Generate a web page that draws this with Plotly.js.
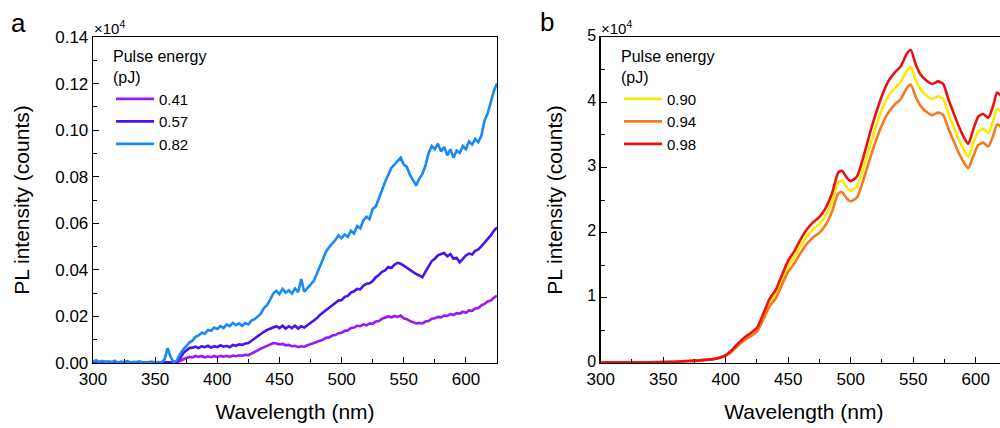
<!DOCTYPE html>
<html>
<head>
<meta charset="utf-8">
<script src="https://cdn.plot.ly/plotly-3.0.1.min.js"></script>
<style>
html,body{margin:0;padding:0;overflow:hidden;background:#fff;width:1000px;height:428px;}
#chart{width:1007px;height:428px;}
</style>
</head>
<body>
<div id="chart"></div>
<script>
// ---------- Panel a (values in units of 1e4 counts) ----------
const wlA = [300,302.5,305,307.5,310,312.5,315,317.5,320,322.5,
  325,327.5,330,332.5,335,337.5,340,342.5,345,347.5,
  350,352.5,355,357.5,360,362.5,365,367.5,370,372.5,
  375,377.5,380,382.5,385,387.5,390,392.5,395,397.5,
  400,402.5,405,407.5,410,412.5,415,417.5,420,422.5,
  425,427.5,430,432.5,435,437.5,440,442.5,445,447.5,
  450,452.5,455,457.5,460,462.5,465,467.5,470,472.5,
  475,477.5,480,482.5,485,487.5,490,492.5,495,497.5,
  500,502.5,505,507.5,510,512.5,515,517.5,520,522.5,
  525,527.5,530,532.5,535,537.5,540,542.5,545,547.5,
  550,552.5,555,557.5,560,562.5,565,567.5,570,572.5,
  575,577.5,580,582.5,585,587.5,590,592.5,595,597.5,
  600,602.5,605,607.5,610,612.5,615,617.5,620,622.5,625];
const a041 = [0.0003,0.0006,0.0002,0.0005,0.0001,0.0004,0.0002,0.0005,0.0001,0.0003,
  0.0002,0.0004,0.0001,0.0003,0.0002,0.0004,0.0001,0.0003,0.0002,0.0004,
  0.0001,0.0003,0.0002,0.0003,0.0001,0.0002,0.0001,0.0003,0.0008,0.0016,
  0.0020,0.0026,0.0024,0.0030,0.0026,0.0030,0.0024,0.0029,0.0025,0.0030,
  0.0025,0.0031,0.0027,0.0031,0.0026,0.0032,0.0029,0.0033,0.0031,0.0035,
  0.0034,0.0040,0.0046,0.0054,0.0062,0.0068,0.0074,0.0080,0.0086,0.0084,
  0.0080,0.0082,0.0076,0.0078,0.0072,0.0074,0.0068,0.0072,0.0070,0.0076,
  0.0080,0.0086,0.0090,0.0096,0.0100,0.0108,0.0110,0.0118,0.0120,0.0128,
  0.0130,0.0138,0.0140,0.0150,0.0152,0.0160,0.0158,0.0166,0.0162,0.0170,
  0.0168,0.0178,0.0180,0.0190,0.0194,0.0200,0.0196,0.0202,0.0198,0.0204,
  0.0192,0.0188,0.0180,0.0176,0.0170,0.0172,0.0170,0.0178,0.0180,0.0190,
  0.0192,0.0198,0.0196,0.0204,0.0202,0.0210,0.0206,0.0214,0.0212,0.0220,
  0.0216,0.0226,0.0224,0.0234,0.0236,0.0248,0.0254,0.0264,0.0268,0.0280,0.0290];
const a057 = [0.0004,0.0002,0.0005,0.0003,0.0006,0.0002,0.0004,0.0003,0.0002,0.0004,
  0.0002,0.0005,0.0003,0.0002,0.0004,0.0002,0.0003,0.0001,0.0004,0.0002,
  0.0003,0.0002,0.0003,0.0002,0.0003,0.0002,0.0003,0.0008,0.0020,0.0042,
  0.0052,0.0064,0.0066,0.0070,0.0064,0.0072,0.0068,0.0074,0.0066,0.0072,
  0.0068,0.0076,0.0070,0.0074,0.0068,0.0078,0.0074,0.0080,0.0078,0.0084,
  0.0086,0.0096,0.0106,0.0118,0.0126,0.0134,0.0142,0.0148,0.0152,0.0158,
  0.0150,0.0160,0.0148,0.0158,0.0150,0.0160,0.0148,0.0158,0.0152,0.0162,
  0.0170,0.0182,0.0192,0.0206,0.0216,0.0228,0.0236,0.0248,0.0256,0.0268,
  0.0270,0.0284,0.0288,0.0302,0.0308,0.0318,0.0316,0.0332,0.0340,0.0342,
  0.0352,0.0368,0.0378,0.0392,0.0398,0.0412,0.0408,0.0422,0.0430,0.0426,
  0.0418,0.0408,0.0398,0.0388,0.0382,0.0376,0.0368,0.0392,0.0418,0.0438,
  0.0448,0.0462,0.0468,0.0472,0.0458,0.0468,0.0448,0.0452,0.0432,0.0448,
  0.0462,0.0470,0.0466,0.0482,0.0488,0.0502,0.0516,0.0532,0.0548,0.0568,0.0582];
const a082 = [0.0005,0.0012,0.0003,0.0009,0.0002,0.0007,0.0004,0.0010,0.0002,0.0006,
  0.0003,0.0008,0.0001,0.0005,0.0003,0.0007,0.0002,0.0004,0.0001,0.0005,
  0.0002,0.0004,0.0002,0.0015,0.0064,0.0025,0.0003,0.0012,0.0038,0.0058,
  0.0072,0.0088,0.0096,0.0112,0.0118,0.0130,0.0126,0.0142,0.0138,0.0152,
  0.0146,0.0158,0.0150,0.0165,0.0158,0.0172,0.0162,0.0170,0.0160,0.0172,
  0.0166,0.0182,0.0188,0.0200,0.0212,0.0236,0.0248,0.0272,0.0298,0.0310,
  0.0296,0.0318,0.0302,0.0312,0.0298,0.0320,0.0304,0.0360,0.0306,0.0322,
  0.0338,0.0352,0.0382,0.0412,0.0448,0.0478,0.0498,0.0512,0.0528,0.0548,
  0.0536,0.0552,0.0542,0.0568,0.0556,0.0588,0.0578,0.0612,0.0628,0.0618,
  0.0662,0.0672,0.0712,0.0742,0.0778,0.0812,0.0838,0.0852,0.0868,0.0882,
  0.0852,0.0842,0.0808,0.0782,0.0762,0.0792,0.0812,0.0848,0.0902,0.0932,
  0.0918,0.0942,0.0908,0.0928,0.0892,0.0918,0.0882,0.0912,0.0902,0.0932,
  0.0918,0.0952,0.0938,0.0962,0.0948,0.0978,0.1042,0.1072,0.1122,0.1168,0.1200];

// ---------- Panel b (values in units of 1e4 counts) ----------
const wlB = [300,320,340,360,370,380,385,390,395,400,405,410,415,420,425,430,435,440,445,450,
  455,460,465,470,475,480,485,490,493,497,500,505,510,515,520,525,530,535,540,545,
  548,552,556,560,565,570,574,578,582,586,590,594,598,602,606,610,614,617,620,625];
const b090 = [0.01,0.01,0.01,0.02,0.03,0.04,0.05,0.06,0.08,0.12,0.19,0.29,0.37,0.44,0.51,0.71,0.93,1.06,1.28,1.49,
  1.63,1.80,1.95,2.05,2.13,2.26,2.47,2.77,2.80,2.69,2.64,2.71,2.98,3.31,3.62,3.89,4.09,4.21,4.31,4.49,
  4.54,4.34,4.19,4.11,4.05,4.09,4.05,3.83,3.64,3.45,3.29,3.16,3.37,3.55,3.59,3.53,3.71,3.90,3.86,3.80];
const b094 = [0.01,0.01,0.01,0.02,0.03,0.04,0.05,0.06,0.08,0.11,0.18,0.27,0.35,0.41,0.48,0.66,0.87,0.99,1.20,1.40,
  1.53,1.69,1.83,1.93,2.00,2.12,2.32,2.60,2.62,2.52,2.48,2.54,2.80,3.11,3.40,3.65,3.84,3.96,4.05,4.22,
  4.27,4.08,3.94,3.86,3.80,3.84,3.80,3.60,3.42,3.24,3.09,2.99,3.17,3.34,3.38,3.32,3.49,3.66,3.63,3.57];
const b098 = [0.01,0.01,0.01,0.02,0.03,0.04,0.05,0.06,0.08,0.12,0.20,0.30,0.39,0.46,0.54,0.75,0.98,1.12,1.35,1.57,
  1.72,1.90,2.05,2.16,2.24,2.38,2.60,2.92,2.95,2.84,2.79,2.86,3.15,3.50,3.82,4.10,4.32,4.45,4.55,4.75,
  4.80,4.58,4.42,4.34,4.28,4.32,4.28,4.05,3.85,3.65,3.48,3.36,3.58,3.78,3.82,3.76,3.95,4.15,4.10,4.02];

const namesA = ['0.41','0.57','0.82'];
const namesB = ['0.90','0.94','0.98'];
const colA = ['#9b19f5','#4a12f0','#1789fc'];
const colB = ['#ffe800','#f47a1f','#e81212'];

const W = 1007;
const FONT = 'Arial, "Liberation Sans", sans-serif';

const traces = [];
[a041,a057,a082].forEach((ys,i)=>traces.push({
  x: wlA, y: ys, type:'scatter', mode:'lines', name:namesA[i],
  line:{color:colA[i], width:2.6}, xaxis:'x', yaxis:'y', legend:'legend'
}));
[b090,b094,b098].forEach((ys,i)=>traces.push({
  x: wlB, y: ys, type:'scatter', mode:'lines', name:namesB[i],
  line:{color:colB[i], width:2.6, shape:'spline', smoothing:0.6}, xaxis:'x2', yaxis:'y2', legend:'legend2'
}));

const axBase = {
  showline:true, linecolor:'#000', linewidth:1.3, mirror:true,
  ticks:'inside', ticklen:6, tickwidth:1, tickcolor:'#000',
  showgrid:false, zeroline:false,
  tickfont:{family:FONT, size:17, color:'#000'}
};
const ydom = [1-363/428, 1-37/428];
const legTitle = {text:'Pulse energy<br>(pJ)', font:{family:FONT,size:16,color:'#000'}, side:'top'};

const layout = {
  width: W, height: 428,
  margin:{l:0,r:0,t:0,b:0},
  paper_bgcolor:'#fff', plot_bgcolor:'#fff',
  font:{family:FONT, color:'#000'},
  showlegend:true,
  xaxis: Object.assign({}, axBase, {
    domain:[93/W, 497/W], range:[300,625], dtick:50, tick0:300,
    minor:{dtick:25, ticks:'inside', ticklen:4, tickcolor:'#000'},
    title:{text:'Wavelength (nm)', font:{family:FONT,size:21}, standoff:16}
  }),
  yaxis: Object.assign({}, axBase, {
    domain:ydom, range:[0,0.14], dtick:0.02, tickformat:'.2f',
    minor:{dtick:0.01, ticks:'inside', ticklen:4, tickcolor:'#000'},
    title:{text:'PL intensity (counts)', font:{family:FONT,size:21}, standoff:20}
  }),
  xaxis2: Object.assign({}, axBase, {
    domain:[600.7/W, 1], range:[300,625], dtick:50, tick0:300, anchor:'y2',
    minor:{dtick:25, ticks:'inside', ticklen:4, tickcolor:'#000'},
    title:{text:'Wavelength (nm)', font:{family:FONT,size:21}, standoff:16}
  }),
  yaxis2: Object.assign({}, axBase, {
    domain:ydom, range:[0,5], dtick:1, anchor:'x2', ticklabelshift:-2,
    tickfont:{family:FONT, size:16, color:'#000'},
    minor:{dtick:0.5, ticks:'inside', ticklen:4, tickcolor:'#000'},
    title:{text:'PL intensity (counts)', font:{family:FONT,size:21}, standoff:19}
  }),
  legend:{
    x:111/W, y:1-41/428, xanchor:'left', yanchor:'top', bgcolor:'rgba(0,0,0,0)',
    font:{family:FONT,size:15,color:'#000'}, itemwidth:38,
    title:legTitle, tracegroupgap:0
  },
  legend2:{
    x:619/W, y:1-41/428, xanchor:'left', yanchor:'top', bgcolor:'rgba(0,0,0,0)',
    font:{family:FONT,size:15,color:'#000'}, itemwidth:38,
    title:legTitle, tracegroupgap:0
  },
  annotations:[
    {text:'a', xref:'paper', yref:'paper', x:9/W, y:1-6/428, xanchor:'left', yanchor:'top', showarrow:false, font:{family:FONT,size:26,color:'#000'}},
    {text:'b', xref:'paper', yref:'paper', x:538/W, y:1-5/428, xanchor:'left', yanchor:'top', showarrow:false, font:{family:FONT,size:26,color:'#000'}},
    {text:'×10<sup>4</sup>', xref:'paper', yref:'paper', x:92/W, y:1-39/428, xanchor:'left', yanchor:'bottom', showarrow:false, font:{family:FONT,size:15,color:'#000'}},
    {text:'×10<sup>4</sup>', xref:'paper', yref:'paper', x:599/W, y:1-39/428, xanchor:'left', yanchor:'bottom', showarrow:false, font:{family:FONT,size:15,color:'#000'}}
  ]
};

Plotly.newPlot('chart', traces, layout, {displayModeBar:false, staticPlot:true});
</script>
</body>
</html>
